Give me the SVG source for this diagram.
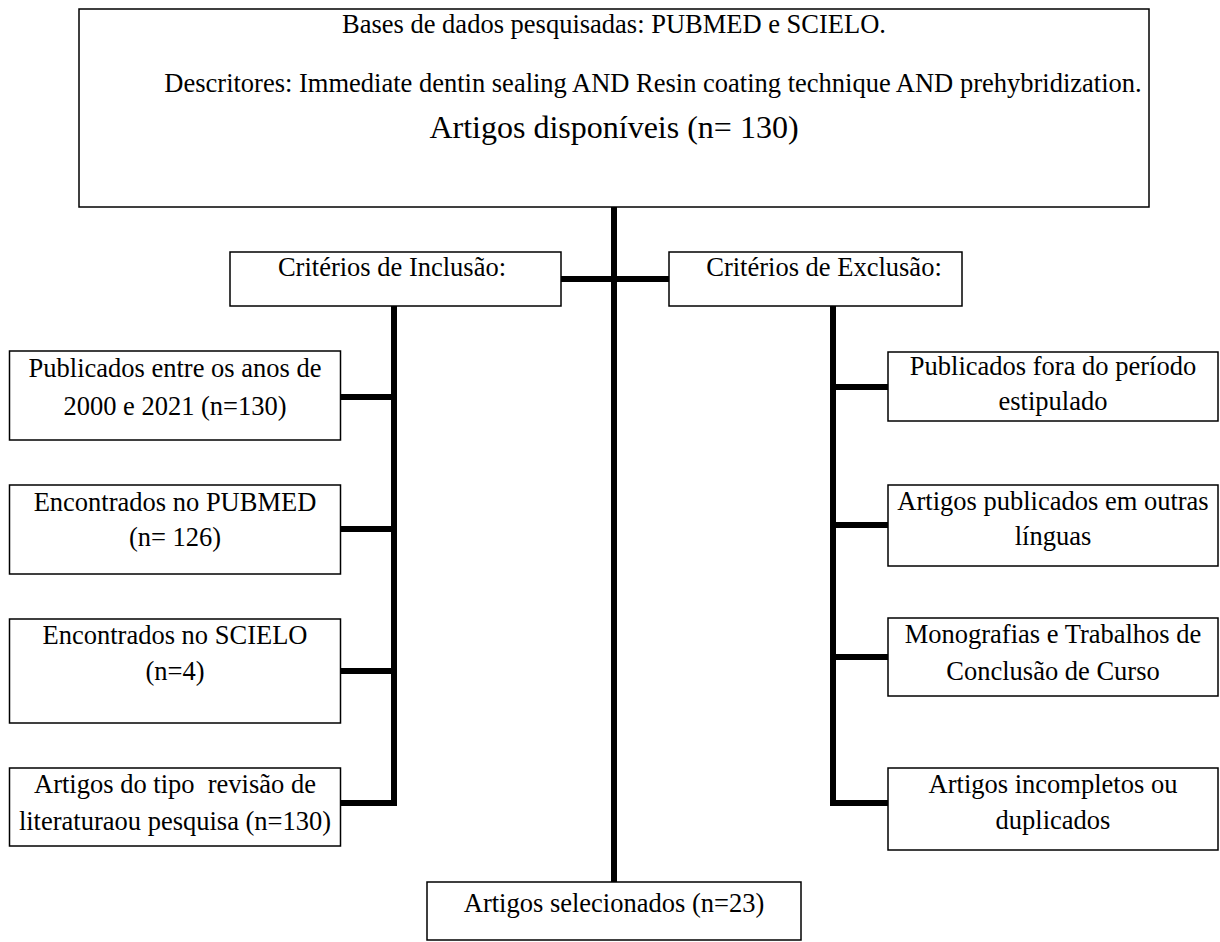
<svg xmlns="http://www.w3.org/2000/svg" width="1220" height="942" viewBox="0 0 1220 942">
<style>
.box{fill:#fff;stroke:#000;stroke-width:1.5}
.t{font-family:"Liberation Serif","Times New Roman",serif;font-size:26.5px;fill:#000;text-anchor:middle}
.big{font-size:32px}
.c{stroke:#000;stroke-width:6;fill:none;stroke-linecap:square}
</style>
<rect width="1220" height="942" fill="#fff"/>
<g id="connectors">
<line class="c" x1="614" y1="208" x2="614" y2="881"/>
<line class="c" x1="561" y1="279" x2="668" y2="279"/>
<polyline class="c" points="394,307 394,803 341,803"/>
<line class="c" x1="341" y1="397" x2="394" y2="397"/>
<line class="c" x1="341" y1="529" x2="394" y2="529"/>
<line class="c" x1="341" y1="671" x2="394" y2="671"/>
<polyline class="c" points="833,307 833,803 887,803"/>
<line class="c" x1="833" y1="387" x2="887" y2="387"/>
<line class="c" x1="833" y1="525" x2="887" y2="525"/>
<line class="c" x1="833" y1="657" x2="887" y2="657"/>
</g>
<g id="top">
<rect class="box" x="79" y="9" width="1070" height="198"/>
<text class="t" x="614" y="33">Bases de dados pesquisadas: PUBMED e SCIELO.</text>
<text class="t" x="653" y="92">Descritores: Immediate dentin sealing AND Resin coating technique AND prehybridization.</text>
<text class="t big" x="614" y="138">Artigos disponíveis (n= 130)</text>
</g>
<g id="inclusao">
<rect class="box" x="230" y="252" width="331" height="54"/>
<text class="t" x="392" y="276">Critérios de Inclusão:</text>
</g>
<g id="exclusao">
<rect class="box" x="669" y="252" width="293" height="54"/>
<text class="t" x="824" y="276">Critérios de Exclusão:</text>
</g>
<g id="inc1">
<rect class="box" x="9.5" y="351" width="331" height="89"/>
<text class="t" x="175" y="377">Publicados entre os anos de</text>
<text class="t" x="175" y="415">2000 e 2021 (n=130)</text>
</g>
<g id="inc2">
<rect class="box" x="9.5" y="485" width="331" height="89"/>
<text class="t" x="175" y="511">Encontrados no PUBMED</text>
<text class="t" x="175" y="546">(n= 126)</text>
</g>
<g id="inc3">
<rect class="box" x="9.5" y="619" width="331" height="104"/>
<text class="t" x="175" y="644">Encontrados no SCIELO</text>
<text class="t" x="175" y="680">(n=4)</text>
</g>
<g id="inc4">
<rect class="box" x="9.5" y="768" width="331" height="78"/>
<text class="t" x="175" y="793" xml:space="preserve">Artigos do tipo  revisão de</text>
<text class="t" x="175" y="830">literaturaou pesquisa (n=130)</text>
</g>
<g id="exc1">
<rect class="box" x="888" y="352" width="330" height="69"/>
<text class="t" x="1053" y="375">Publicados fora do período</text>
<text class="t" x="1053" y="410">estipulado</text>
</g>
<g id="exc2">
<rect class="box" x="888" y="485" width="330" height="81"/>
<text class="t" x="1053" y="510">Artigos publicados em outras</text>
<text class="t" x="1053" y="545">línguas</text>
</g>
<g id="exc3">
<rect class="box" x="888" y="618" width="330" height="78"/>
<text class="t" x="1053" y="643">Monografias e Trabalhos de</text>
<text class="t" x="1053" y="680">Conclusão de Curso</text>
</g>
<g id="exc4">
<rect class="box" x="888" y="768" width="330" height="82"/>
<text class="t" x="1053" y="793">Artigos incompletos ou</text>
<text class="t" x="1053" y="829">duplicados</text>
</g>
<g id="selecionados">
<rect class="box" x="427" y="882" width="374" height="58"/>
<text class="t" x="614" y="912">Artigos selecionados (n=23)</text>
</g>
</svg>
